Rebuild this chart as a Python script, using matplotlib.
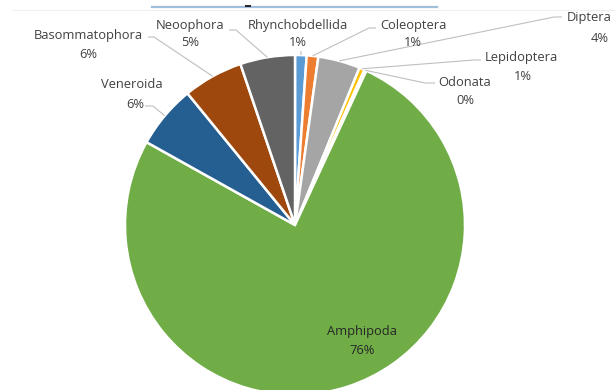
import matplotlib
matplotlib.use("Agg")
import matplotlib.pyplot as plt
import numpy as np
from matplotlib.lines import Line2D

# ---- data ----
categories = ["Rhynchobdellida", "Coleoptera", "Diptera", "Lepidoptera", "Odonata",
              "Amphipoda", "Veneroida", "Basommatophora", "Neoophora"]
values = [1.1, 1.1, 4.0, 0.5, 0.2, 76.2, 6.0, 5.7, 5.2]
colors = ["#5B9BD5", "#ED7D31", "#A5A5A5", "#FFC000", "#4472C4",
          "#70AD47", "#255E91", "#9E480E", "#636363"]

# ---- layout (pixel coords, y measured from top) ----
W, H = 615, 390
CX, CY, R = 295, 225, 170
# label name centre, pct centre, leader path (after the wedge anchor)
label_layout = {
    "Rhynchobdellida": ((298, 25), (298, 43), [(301, 51)]),
    "Coleoptera":      ((413, 25), (413, 43), [(369, 28), (376, 28)]),
    "Diptera":         ((589, 18), (600, 38), [(554, 17), (562, 17)]),
    "Lepidoptera":     ((521, 57), (523, 76), [(474, 60), (481, 60)]),
    "Odonata":         ((465, 82), (465, 101), [(425, 83), (435, 83)]),
    "Amphipoda":       ((362, 332), (362, 350), None),
    "Veneroida":       ((132, 85), (135, 104), [(153, 106), (145, 106)]),
    "Basommatophora":  ((88, 36), (88, 55), [(154, 37), (148, 37)]),
    "Neoophora":       ((190, 25), (190, 43), [(236, 30), (229, 30)]),
}

fig = plt.figure(figsize=(W / 100, H / 100), dpi=100)
fig.patch.set_facecolor("white")
ax = fig.add_axes([0, 0, 1, 1])

def py(y):
    return H - y

wedges, _ = ax.pie(values, colors=colors, startangle=90, counterclock=False,
                   center=(CX, py(CY)), radius=R, frame=True,
                   wedgeprops=dict(edgecolor="white", linewidth=1.8))
ax.set_xlim(0, W)
ax.set_ylim(0, H)
ax.set_aspect("equal")
ax.axis("off")

total = sum(values)
font = dict(family=["Open Sans", "DejaVu Sans"], fontsize=9.3)
line_col = "#BFBFBF"

def pct_text(v):
    return f"{int(v / total * 100 + 0.5)}%"

for w, name, v in zip(wedges, categories, values):
    (nx, ny), (px_, py_), path = label_layout[name]
    tc = "#262626" if name == "Amphipoda" else "#404040"
    ax.text(nx, py(ny), name, ha="center", va="center", color=tc, **font)
    ax.text(px_, py(py_), pct_text(v), ha="center", va="center", color=tc, **font)
    if path:
        mid = np.deg2rad((w.theta1 + w.theta2) / 2)
        ax_x = CX + R * np.cos(mid)
        ax_y = py(CY) + R * np.sin(mid)
        xs = [ax_x] + [p[0] for p in path]
        ys = [ax_y] + [py(p[1]) for p in path]
        ax.plot(xs, ys, color=line_col, lw=0.8, solid_capstyle="butt")

# top decorations (cropped title remnants)
fig.add_artist(Line2D([13 / W, 1], [1 - 10 / H, 1 - 10 / H], color="#EFEFEF", lw=0.8))
fig.add_artist(Line2D([152 / W, 437 / W], [1 - 7 / H, 1 - 7 / H], color="#9FBFDA", lw=1.6))
fig.add_artist(Line2D([246 / W, 250 / W], [1 - 6 / H, 1 - 6 / H], color="#222222", lw=1.4))

fig.savefig("out.png", dpi=100, facecolor="white")
